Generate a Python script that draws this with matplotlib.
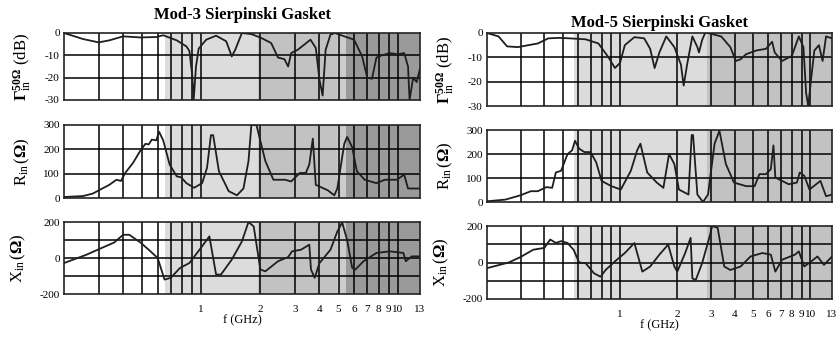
import matplotlib
matplotlib.use("Agg")
import matplotlib.pyplot as plt
import numpy as np

plt.rcParams['font.family'] = ['Liberation Serif', 'DejaVu Serif']
plt.rcParams['mathtext.fontset'] = 'custom'
plt.rcParams['mathtext.rm'] = 'Liberation Serif'
plt.rcParams['mathtext.it'] = 'Liberation Serif:italic'
plt.rcParams['mathtext.bf'] = 'Liberation Serif:bold'

# ---------------- data ----------------
titles = ["Mod-3 Sierpinski Gasket", "Mod-5 Sierpinski Gasket"]
xtick_vals = [1, 2, 3, 4, 5, 6, 7, 8, 9, 10, 13]
xtick_labels = ["1", "2", "3", "4", "5", "6", "7", "8", "9", "10", "13"]

# Mod-3 : |Gamma| (dB)
f_g3 = [0.2, 0.25, 0.30, 0.34, 0.40, 0.49, 0.59, 0.64, 0.75, 0.84, 0.87, 0.90, 0.915, 0.94, 0.97,
        1.06, 1.19, 1.34, 1.43, 1.49, 1.61, 1.80, 2.02, 2.27, 2.46, 2.65, 2.77, 2.87, 3.1, 3.37,
        3.6, 3.83, 4.0, 4.15, 4.3, 4.55, 4.8, 5.35, 6.0, 6.6, 7.0, 7.4, 7.8, 8.3, 9.1, 10.0, 10.8,
        11.3, 11.5, 12.0, 12.5, 13.0]
g3 = [0, -2.7, -4.2, -3.3, -1.5, -2.0, -1.8, -1.0, -3.3, -6.0, -8.0, -19, -30, -15, -7,
      -3, -1.2, -3.7, -10.5, -7.5, 0.0, -0.5, -2.2, -4.5, -11, -11.7, -15, -9, -7.5, -5,
      -3, -6.7, -21, -28, -7.5, -0.7, 0.0, -1.5, -3, -10.5, -20, -20.5, -11, -10, -9, -9.5, -9,
      -15, -30, -20, -22, -16]

# Mod-3 : R_in (Ohm)
f_r3 = [0.2, 0.25, 0.28, 0.31, 0.34, 0.37, 0.39, 0.41, 0.45, 0.49, 0.52, 0.54, 0.56, 0.59, 0.61,
        0.64, 0.69, 0.75, 0.79, 0.84, 0.92, 1.01, 1.07, 1.12, 1.15, 1.23, 1.38, 1.52, 1.64, 1.74,
        1.80, 1.91, 2.12, 2.33, 2.67, 2.87, 3.18, 3.41, 3.55, 3.7, 3.83, 4.4, 4.76, 4.93, 5.35,
        5.53, 5.87, 6.2, 6.8, 7.8, 8.6, 9.9, 10.8, 11.3, 13.0]
r3 = [4, 8, 18, 37, 54, 75, 70, 103, 145, 195, 223, 220, 240, 237, 272,
      237, 138, 89, 85, 61, 42, 61, 124, 258, 258, 110, 28, 11, 39, 152,
      300, 300, 152, 75, 75, 68, 103, 103, 138, 244, 54, 32, 11, 39, 223,
      251, 209, 110, 75, 61, 75, 75, 96, 39, 39]

# Mod-3 : X_in (Ohm)
f_x3 = [0.2, 0.26, 0.31, 0.36, 0.40, 0.43, 0.49, 0.54, 0.60, 0.65, 0.70, 0.78, 0.87, 0.98, 1.10,
        1.19, 1.26, 1.43, 1.61, 1.74, 1.85, 2.0, 2.12, 2.46, 2.77, 2.9, 3.22, 3.55, 3.62, 3.78,
        4.0, 4.55, 4.93, 5.22, 5.53, 5.87, 6.1, 6.7, 7.8, 9.1, 10.7, 11.0, 11.8, 13.0]
x3 = [-28, 18, 55, 86, 129, 129, 86, 46, 0, -120, -110, -55, -28, 46, 120,
      -92, -92, -9, 92, 200, 175, -64, -74, -18, 5, 37, 46, 74, -64, -110,
      -28, 46, 147, 197, 101, -55, -64, -18, 28, 37, 28, -18, 9, 9]

# Mod-5 : |Gamma| (dB)
f_g5 = [0.2, 0.23, 0.255, 0.29, 0.33, 0.37, 0.42, 0.48, 0.545, 0.66, 0.77, 0.87, 0.94, 1.0, 1.06,
        1.19, 1.34, 1.44, 1.52, 1.61, 1.75, 1.93, 2.09, 2.16, 2.26, 2.4, 2.55, 2.6, 2.7, 2.8,
        2.9, 3.4, 3.8, 4.06, 4.3, 4.6, 5.2, 5.85, 6.3, 6.5, 7.1, 8.0, 8.7, 9.2, 9.5, 9.75,
        10.1, 10.5, 11.1, 11.6, 12.1, 13.0]
g5 = [0, -1.4, -5.5, -5.8, -5, -4.3, -2.2, -2.0, -2.2, -2.6, -4.3, -10, -14.4, -12.3, -5,
      -1.7, -2.2, -6.5, -14.4, -8, -1.4, -5.8, -13, -21.6, -12.3, -1.4, -5.8, -8, -2.9, 0.0,
      0.0, -1.4, -5.8, -11.5, -10.8, -8.7, -7.2, -6.5, -3.6, -8, -11.5, -9.4, -1.4, -5.8, -24.5, -30,
      -18.8, -7.2, -5, -11.5, -1.4, -2.2]

# Mod-5 : R_in (Ohm)
f_r5 = [0.2, 0.25, 0.30, 0.34, 0.37, 0.41, 0.44, 0.46, 0.49, 0.53, 0.56, 0.58, 0.61, 0.65, 0.70,
        0.75, 0.80, 0.90, 1.01, 1.14, 1.23, 1.28, 1.39, 1.56, 1.69, 1.81, 1.93, 2.04, 2.29, 2.38,
        2.42, 2.55, 2.73, 2.9, 3.14, 3.33, 3.6, 3.97, 4.6, 5.1, 5.4, 5.85, 6.2, 6.4, 6.55, 7.7,
        8.5, 8.8, 9.3, 9.9, 11.3, 12.1, 13.0]
r5 = [3, 10, 28, 45, 45, 62, 59, 123, 130, 200, 215, 255, 222, 208, 208,
      165, 88, 66, 52, 130, 215, 243, 123, 81, 59, 200, 158, 52, 31, 279,
      279, 31, 0, 31, 243, 297, 158, 81, 66, 66, 116, 116, 137, 236, 102, 74,
      81, 123, 109, 52, 88, 24, 31]

# Mod-5 : X_in (Ohm)
f_x5 = [0.2, 0.26, 0.30, 0.35, 0.40, 0.43, 0.46, 0.49, 0.53, 0.57, 0.61, 0.66, 0.73, 0.79, 0.84,
        0.94, 1.06, 1.19, 1.31, 1.44, 1.61, 1.79, 1.93, 2.0, 2.2, 2.35, 2.4, 2.5, 2.7, 2.96,
        3.05, 3.26, 3.53, 3.8, 4.3, 4.85, 5.6, 6.2, 6.55, 7.1, 8.3, 8.7, 9.3, 10.1, 10.9, 11.8, 13.0]
x5 = [-31, 0, 30, 70, 80, 126, 107, 117, 107, 70, 0, -4, -59, -78, -41,
      6, 52, 107, -50, -22, 43, 98, -22, -50, 52, 135, -87, -96, -4, 144,
      200, 190, -22, -41, -22, 33, 52, 43, -50, 15, 43, 61, -22, 6, 33, -13, 33]

# shaded bands (GHz) and their grey levels
bands3 = [(0.65, 1.95, "#dcdcdc"), (1.95, 4.9, "#c2c2c2"), (4.9, 5.45, "#cccccc"), (5.45, 13.0, "#9a9a9a")]
bands5 = [(0.57, 2.85, "#dcdcdc"), (2.85, 13.0, "#c2c2c2")]

W, H = 838, 338
fig = plt.figure(figsize=(W / 100, H / 100), dpi=100)

def ax_at(x0, x1, y0, y1):
    return fig.add_axes([x0 / W, 1 - y1 / H, (x1 - x0) / W, (y1 - y0) / H])

cols = [
    dict(x0=64, x1=420, rows=[(33, 100), (125, 198), (222, 294)],
         data=[(f_g3, g3), (f_r3, r3), (f_x3, x3)], bands=bands3, title_pad=10),
    dict(x0=487, x1=832, rows=[(33, 106), (130, 202), (226, 299)],
         data=[(f_g5, g5), (f_r5, r5), (f_x5, x5)], bands=bands5, title_pad=4),
]

ylims = [(-30, 0), (0, 300), (-200, 200)]
yticks = [[0, -10, -20, -30], [0, 100, 200, 300], [-200, -100, 0, 100, 200]]
yticklabels = [["0", "-10", "-20", "-30"], ["0", "100", "200", "300"], ["-200", "", "0", "", "200"]]
ylabels = [r"$\mathbf{\Gamma}_{\mathrm{in}}^{\mathbf{50\Omega}}$ (dB)",
           r"$\mathrm{R}_{\mathrm{in}}\,(\mathbf{\Omega})$",
           r"$\mathrm{X}_{\mathrm{in}}\,(\mathbf{\Omega})$"]
grid_x = [0.3, 0.4, 0.5, 0.6, 0.7, 0.8, 0.9, 1, 2, 3, 4, 5, 6, 7, 8, 9, 10]

for c, col in enumerate(cols):
    for r, (y0, y1) in enumerate(col["rows"]):
        ax = ax_at(col["x0"], col["x1"], y0, y1)
        ax.set_xscale("log")
        ax.set_xlim(0.2, 13)
        ax.set_ylim(*ylims[r])
        for a, b, colr in col["bands"]:
            ax.axvspan(a, b, color=colr, lw=0, zorder=0)
        for gx in grid_x:
            ax.axvline(gx, color="black", lw=1.1, zorder=1)
        for gy in yticks[r][1:-1]:
            ax.axhline(gy, color="black", lw=1.1, zorder=1)
        fx, vy = col["data"][r]
        ax.plot(fx, vy, color="#1e1e1e", lw=1.3, zorder=3, clip_on=True)
        ax.set_yticks(yticks[r])
        ax.set_yticklabels(yticklabels[r], fontsize=8)
        ax.tick_params(axis="y", length=0, pad=3)
        ax.tick_params(axis="x", which="both", length=0)
        ax.xaxis.set_minor_formatter(matplotlib.ticker.NullFormatter())
        if r == 2:
            ax.set_xticks(xtick_vals)
            ax.set_xticklabels(xtick_labels, fontsize=8)
            ax.tick_params(axis="x", pad=8)
            ax.set_xlabel("f (GHz)", fontsize=9, labelpad=0)
        else:
            ax.set_xticks([])
        for s in ax.spines.values():
            s.set_linewidth(1.2)
            s.set_color("#222222")
        ax.set_ylabel(ylabels[r], fontsize=12, labelpad=8)
        if r == 0:
            ax.set_title(titles[c], fontsize=12, fontweight="bold", pad=col["title_pad"])

fig.savefig("out.png", dpi=100)
